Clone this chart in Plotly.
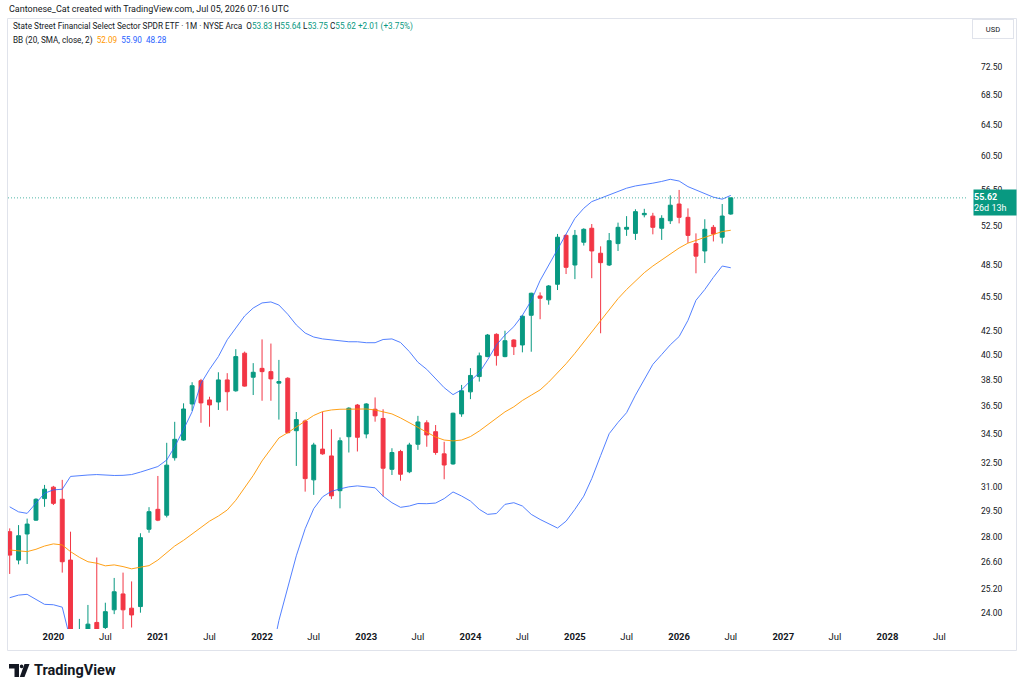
import numpy as np
import pandas as pd
import plotly.graph_objects as go

# ---------------- data ----------------
months = pd.date_range("2019-08-01", periods=84, freq="MS")

opens = [28.29, 26.71, 28.16, 28.96, 30.25,
         30.96, 30.21, 26.71, 21.90, 22.90, 23.54, 23.30, 24.15, 24.94, 24.23, 24.31, 28.43,
         29.60, 29.25, 32.86, 34.06, 36.64, 38.41, 36.94, 36.79, 38.47, 37.63, 40.61, 38.68,
         39.38, 39.12, 38.22, 38.60, 34.71, 35.40, 31.42, 33.44, 32.98, 30.74, 34.29, 36.56,
         34.48, 36.25, 35.58, 32.10, 33.28, 31.94, 33.77, 35.27, 34.64, 33.12, 32.45, 35.91,
         37.55, 38.73, 40.33, 42.19, 40.33, 41.71, 41.29, 43.85, 45.60, 45.24, 46.69, 51.55,
         48.55, 50.84, 52.30, 49.72, 48.55, 50.70, 52.20, 51.76, 53.75, 53.60, 52.30, 53.10,
         54.93, 53.47, 50.70, 49.95, 52.40, 51.36, 53.83]
highs = [28.48, 28.67, 29.05, 30.27, 31.10,
         31.04, 31.42, 28.29, 23.71, 24.39, 26.85, 24.50, 25.76, 26.04, 25.58, 28.20, 29.73,
         31.67, 33.87, 35.34, 36.69, 38.29, 38.55, 37.18, 39.07, 39.00, 40.94, 40.74, 39.80,
         41.76, 41.41, 40.06, 38.68, 36.05, 35.50, 33.87, 36.07, 34.81, 34.24, 36.40, 36.64,
         36.70, 37.13, 36.25, 33.50, 33.39, 33.87, 35.77, 35.45, 35.11, 33.94, 36.00, 38.08,
         39.40, 40.66, 42.22, 42.28, 42.50, 41.77, 43.85, 45.90, 45.93, 46.62, 51.70, 51.66,
         52.12, 52.30, 52.75, 50.42, 51.80, 52.90, 53.60, 54.35, 54.40, 53.96, 53.70, 55.90,
         56.52, 54.45, 51.76, 53.26, 52.65, 54.93, 55.64]
lows = [25.97, 26.48, 26.50, 28.92, 29.75,
        29.86, 26.04, 17.60, 21.00, 21.40, 22.30, 22.80, 23.94, 23.21, 23.30, 24.01, 28.23,
        28.90, 29.12, 32.67, 34.00, 36.13, 35.27, 34.99, 36.20, 36.15, 37.56, 37.95, 37.31,
        36.88, 36.88, 35.50, 34.53, 32.32, 30.68, 30.48, 33.06, 30.22, 29.66, 33.21, 33.28,
        34.18, 35.35, 30.38, 31.73, 31.37, 31.85, 33.39, 33.60, 33.06, 31.46, 32.40, 35.70,
        37.00, 38.34, 40.28, 39.60, 40.28, 40.46, 40.68, 40.73, 43.50, 44.80, 46.15, 47.67,
        47.18, 50.50, 47.27, 42.28, 48.45, 49.95, 51.50, 51.08, 53.47, 51.66, 51.08, 52.75,
        52.82, 50.77, 47.74, 48.74, 50.92, 50.70, 53.75]
closes = [26.98, 28.06, 28.73, 30.21, 30.83,
          29.96, 26.62, 22.76, 23.00, 23.46, 23.00, 24.06, 25.05, 24.15, 23.90, 27.95, 29.46,
          28.96, 32.37, 34.11, 36.27, 38.02, 36.72, 36.57, 38.47, 37.56, 40.33, 37.99, 39.07,
          39.12, 38.55, 38.34, 34.57, 35.50, 31.50, 33.72, 33.12, 30.42, 34.01, 36.33, 34.25,
          36.64, 35.77, 32.17, 33.21, 31.78, 33.72, 35.33, 34.41, 33.21, 32.38, 35.96, 37.63,
          38.82, 40.39, 42.13, 40.41, 41.65, 41.15, 43.77, 45.85, 45.39, 46.53, 51.36, 48.32,
          51.55, 52.19, 49.95, 48.78, 51.00, 52.40, 52.40, 54.09, 53.90, 52.40, 53.36, 54.80,
          53.47, 51.55, 49.43, 52.19, 51.70, 53.61, 55.62]

bb_basis = [27.26, 27.20, 27.17, 27.30, 27.48,
            27.60, 27.54, 27.17, 26.86, 26.62, 26.54, 26.40, 26.45, 26.36, 26.24, 26.33, 26.41,
            26.71, 27.14, 27.48, 27.80, 28.16, 28.55, 28.90, 29.20, 29.56, 30.15, 30.90, 31.70,
            32.65, 33.46, 34.20, 34.57, 34.97, 35.38, 35.80, 36.08, 36.20, 36.25, 36.27, 36.30,
            36.27, 36.20, 36.08, 35.91, 35.62, 35.27, 34.91, 34.62, 34.27, 34.06, 34.00, 34.06,
            34.30, 34.69, 35.13, 35.60, 36.06, 36.43, 36.90, 37.30, 37.70, 38.30, 39.00, 39.75,
            40.60, 41.55, 42.40, 43.40, 44.40, 45.35, 46.20, 47.00, 47.80, 48.45, 49.05, 49.65,
            50.25, 50.75, 51.05, 51.35, 51.65, 51.95, 52.09]
bb_upper = [29.75, 29.45, 29.36, 29.96, 30.58,
            30.79, 30.83, 31.64, 31.71, 31.73, 31.76, 31.71, 31.70, 31.71, 31.76, 31.92, 32.10,
            32.28, 32.71, 33.60, 34.80, 36.07, 38.20, 39.30, 40.33, 41.73, 42.73, 43.79, 44.50,
            44.96, 45.05, 44.77, 43.94, 43.00, 42.30, 41.96, 41.80, 41.70, 41.65, 41.56, 41.56,
            41.48, 41.48, 41.75, 41.80, 41.50, 40.74, 39.87, 39.30, 38.60, 37.87, 37.34, 37.71,
            38.40, 39.03, 40.06, 41.29, 42.13, 42.85, 43.85, 45.17, 47.05, 48.55, 50.05, 51.78,
            53.36, 54.46, 55.20, 55.58, 55.95, 56.33, 56.72, 56.98, 57.10, 57.30, 57.50, 57.75,
            57.55, 56.90, 56.52, 56.14, 55.70, 55.47, 55.90]
bb_lower = [24.75, 24.88, 24.92, 24.66, 24.42,
            24.40, 24.28, 22.70, 22.01, 21.51, 21.32, 21.09, 21.20, 21.01, 20.72, 20.74, 20.72,
            21.14, 21.57, 21.36, 20.80, 20.25, 18.90, 18.50, 18.07, 17.39, 17.35, 17.79, 18.86,
            20.34, 21.87, 23.63, 25.20, 26.94, 28.46, 29.64, 30.36, 30.70, 30.85, 30.98, 31.04,
            31.00, 30.92, 30.40, 30.00, 29.72, 29.80, 29.95, 29.94, 29.98, 30.25, 30.66, 30.41,
            30.10, 29.60, 29.30, 29.35, 29.90, 30.00, 29.80, 29.30, 29.00, 28.75, 28.50, 28.90,
            29.60, 30.40, 31.50, 33.00, 34.50, 35.30, 36.00, 37.30, 38.50, 39.70, 40.50, 41.30,
            42.00, 43.40, 45.20, 46.20, 47.35, 48.45, 48.28]

price_ticks = [24.00, 25.20, 26.60, 28.00, 29.50, 31.00, 32.50, 34.50, 36.50, 38.50,
               40.50, 42.50, 45.50, 48.50, 52.50, 56.50, 60.50, 64.50, 68.50, 72.50]
years = [2020, 2021, 2022, 2023, 2024, 2025, 2026, 2027, 2028]

last_open, last_high, last_low, last_close = opens[-1], highs[-1], lows[-1], closes[-1]
change = 2.01
change_pct = 3.75

# ---------------- layout geometry ----------------
W, H = 1024, 691
L, R, T, B = 8, 966, 19, 629
UP, DOWN = "#089981", "#F23645"
BLUE, ORANGE = "#2962FF", "#FF9800"
TXT = "#131722"
FONT = "Roboto"


def px(x):
    return (x - L) / (R - L)


def py(y):
    return (B - y) / (B - T)


fig = go.Figure()

fig.add_trace(go.Scatter(x=months, y=bb_upper, mode="lines",
                         line=dict(color=BLUE, width=1), opacity=0.8, hoverinfo="skip"))
fig.add_trace(go.Scatter(x=months, y=bb_lower, mode="lines",
                         line=dict(color=BLUE, width=1), opacity=0.8, hoverinfo="skip"))
fig.add_trace(go.Scatter(x=months, y=bb_basis, mode="lines",
                         line=dict(color=ORANGE, width=1), opacity=0.9, hoverinfo="skip"))

fig.add_trace(go.Candlestick(
    x=months, open=opens, high=highs, low=lows, close=closes,
    increasing=dict(line=dict(color=UP, width=1), fillcolor=UP),
    decreasing=dict(line=dict(color=DOWN, width=1), fillcolor=DOWN),
    whiskerwidth=0,
))

# x ticks
tickvals, ticktext = [], []
for yr in years:
    tickvals.append(f"{yr}-01-01")
    ticktext.append(f"<b>{yr}</b>")
    tickvals.append(f"{yr}-07-01")
    ticktext.append("Jul")

fig.update_layout(
    width=W, height=H,
    margin=dict(l=L, r=W - R, t=T, b=H - B, pad=0),
    paper_bgcolor="white", plot_bgcolor="white",
    showlegend=False,
    font=dict(family=FONT, color=TXT, size=9),
    xaxis=dict(
        type="date", range=["2019-07-26", "2028-10-02"],
        rangeslider=dict(visible=False),
        showgrid=False, zeroline=False, showline=False, ticks="",
        tickvals=tickvals, ticktext=ticktext,
        tickfont=dict(family=FONT, size=9.5, color=TXT),
        fixedrange=True,
    ),
    yaxis=dict(
        type="log", side="right",
        range=[np.log10(23.23), np.log10(79.9)],
        showgrid=False, zeroline=False, showline=False, ticks="",
        tickvals=price_ticks, ticktext=[f"{v:.2f}" for v in price_ticks],
        tickfont=dict(family=FONT, size=8.5, color=TXT),
        ticklabelstandoff=14,
        fixedrange=True,
    ),
)

# last price dotted line
fig.add_shape(type="line", xref="paper", x0=0, x1=1, yref="y", y0=last_close, y1=last_close,
              line=dict(color="rgba(8,153,129,0.7)", width=1, dash="1px,2px"))

# outer frame
fig.add_shape(type="rect", xref="paper", yref="paper",
              x0=px(7.5), x1=px(1016.5), y0=py(650.5), y1=py(18.5),
              line=dict(color="#e0e3eb", width=1), layer="below")

# price label box
fig.add_annotation(xref="paper", yref="y", x=px(995), y=np.log10(last_close),
                   text=f"<b>{last_close:.2f}</b><br>26d 13h", showarrow=False,
                   xanchor="center", yanchor="top", yshift=9,
                   width=42, height=25, bgcolor=UP, borderpad=0, align="left",
                   font=dict(family=FONT, size=9, color="white"))

# USD box
fig.add_annotation(xref="paper", yref="paper", x=px(993), y=py(29),
                   text="USD", showarrow=False, xanchor="center", yanchor="middle",
                   width=38, height=16, bordercolor="#e0e3eb", borderwidth=1,
                   bgcolor="white", font=dict(family=FONT, size=7.5, color=TXT))

# header
fig.add_annotation(xref="paper", yref="paper", x=px(7), y=py(9),
                   text="Cantonese_Cat created with TradingView.com, Jul 05, 2026 07:16 UTC",
                   showarrow=False, xanchor="left", yanchor="middle",
                   font=dict(family=FONT, size=9, color=TXT))

g = UP
legend1 = (f"State Street Financial Select Sector SPDR ETF · 1M · NYSE Arca  "
           f"O<span style='color:{g}'>{last_open:.2f}</span> "
           f"H<span style='color:{g}'>{last_high:.2f}</span> "
           f"L<span style='color:{g}'>{last_low:.2f}</span> "
           f"C<span style='color:{g}'>{last_close:.2f}</span> "
           f"<span style='color:{g}'>+{change:.2f} (+{change_pct:.2f}%)</span>")
fig.add_annotation(xref="paper", yref="paper", x=px(11), y=py(27), text=legend1,
                   showarrow=False, xanchor="left", yanchor="middle",
                   font=dict(family=FONT, size=8.2, color=TXT))

legend2 = (f"BB (20, SMA, close, 2)  "
           f"<span style='color:{ORANGE}'>{bb_basis[-1]:.2f}</span>  "
           f"<span style='color:{BLUE}'>{bb_upper[-1]:.2f}</span>  "
           f"<span style='color:{BLUE}'>{bb_lower[-1]:.2f}</span>")
fig.add_annotation(xref="paper", yref="paper", x=px(11), y=py(40), text=legend2,
                   showarrow=False, xanchor="left", yanchor="middle",
                   font=dict(family=FONT, size=8.2, color=TXT))

# TradingView logo
def path(points):
    return "M " + " L ".join(f"{px(a)},{py(b)}" for a, b in points) + " Z"

fig.add_shape(type="path", xref="paper", yref="paper",
              path=path([(9, 664), (19, 664), (19, 677), (14.5, 677), (14.5, 668.5), (9, 668.5)]),
              fillcolor=TXT, line=dict(width=0))
fig.add_shape(type="circle", xref="paper", yref="paper",
              x0=px(19.8), x1=px(23.4), y0=py(668.2), y1=py(664.6),
              fillcolor=TXT, line=dict(width=0))
fig.add_shape(type="path", xref="paper", yref="paper",
              path=path([(24.5, 664), (29.5, 664), (24.5, 677), (19.8, 677)]),
              fillcolor=TXT, line=dict(width=0))
fig.add_annotation(xref="paper", yref="paper", x=px(32), y=py(670.5),
                   text="<b>TradingView</b>", showarrow=False,
                   xanchor="left", yanchor="middle",
                   font=dict(family=FONT, size=14.5, color=TXT))

fig.write_html("out.html")
